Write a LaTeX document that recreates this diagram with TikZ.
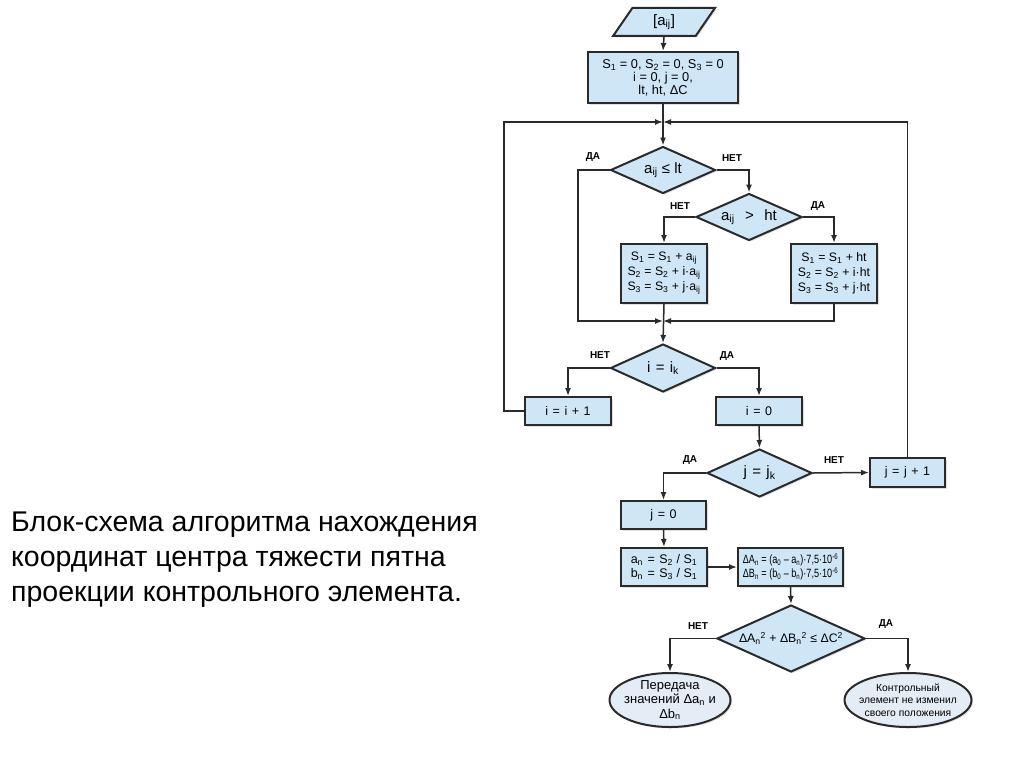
\documentclass[tikz,border=0pt]{standalone}
\usepackage{fontspec}
\setmainfont{Liberation Sans}
\newfontfamily\narrowfont[FakeStretch=0.76]{Liberation Sans}
\usetikzlibrary{arrows.meta,shapes.geometric,shadows}
\newcommand\sbs[1]{\textsubscript{#1}}
\newcommand\sps[1]{\textsuperscript{#1}}
\newcommand\eqsp{\hspace{0.36em}}
\definecolor{boxblue}{HTML}{CFE6F7}
\definecolor{ellblue}{HTML}{E4ECF6}
\definecolor{edge}{HTML}{2A2A2A}
\tikzset{
  x=1pt,y=-1pt,
  blk/.style={draw=edge,line width=2pt,fill=boxblue,inner sep=0pt,align=center,
    drop shadow={opacity=0.25,shadow xshift=1.5pt,shadow yshift=-1.5pt}},
  stepbox/.style={blk,rectangle,font=\fontsize{12.5}{14}\selectfont},
  dia/.style={blk,diamond,aspect=2.2,font=\fontsize{15}{17}\selectfont},
  ell/.style={blk,ellipse,fill=ellblue},
  etext/.style={inner sep=0pt,align=center},
  lbl/.style={font=\bfseries\fontsize{10}{11}\selectfont,inner sep=0pt},
  arr/.style={draw=edge,line width=1.5pt,-{Latex[length=8pt,width=6pt]}},
}
\begin{document}
\begin{tikzpicture}
\useasboundingbox (0,0) rectangle (1024,768);
% caption
\node[anchor=north west,align=left,inner sep=0pt,font=\fontsize{28.5}{35}\selectfont] (cap) at (11,512)
 {Блок-схема алгоритма нахождения\\координат центра тяжести пятна\\проекции контрольного элемента.};
% nodes
\node[blk,trapezium,trapezium left angle=67,trapezium right angle=113,trapezium stretches=true,
  minimum width=102pt,minimum height=28pt,font=\fontsize{15}{17}\selectfont] (in) at (664,22) {[a\sbs{ij}]};
\node[stepbox,minimum width=150pt,minimum height=51pt,font=\fontsize{12.8}{13}\selectfont] (init) at (663,77.5)
 {S\sbs{1} = 0, S\sbs{2} = 0, S\sbs{3} = 0\\i = 0, j = 0,\\lt, ht, ΔC};
\coordinate (J1) at (663,122);
\node[dia,minimum width=105pt,minimum height=47pt] (d1) at (663,170) {a\sbs{ij} ≤ lt};
\node[dia,minimum width=106pt,minimum height=47pt] (d2) at (749,217) {a\sbs{ij}\hspace{0.7em}>\hspace{0.7em}ht};
\node[stepbox,minimum width=86pt,minimum height=59pt,font=\fontsize{12.3}{15}\selectfont] (bl) at (664,273.5)
 {S\sbs{1} = S\sbs{1} + a\sbs{ij}\\S\sbs{2} = S\sbs{2} + i·a\sbs{ij}\\S\sbs{3} = S\sbs{3} + j·a\sbs{ij}};
\node[stepbox,minimum width=86pt,minimum height=59pt,font=\fontsize{12.3}{15}\selectfont] (br) at (834,273.5)
 {S\sbs{1} = S\sbs{1} + ht\\S\sbs{2} = S\sbs{2} + i·ht\\S\sbs{3} = S\sbs{3} + j·ht};
\coordinate (J2) at (663,321);
\coordinate (c1) at (578,321);
\node[dia,minimum width=105pt,minimum height=48pt] (d3) at (663,368) {i\eqsp=\eqsp i\sbs{k}};
\node[stepbox,minimum width=86pt,minimum height=28pt] (ii) at (568,411) {i\eqsp=\eqsp i\eqsp+\eqsp1};
\node[stepbox,minimum width=86pt,minimum height=28pt] (i0) at (759,411) {i\eqsp=\eqsp0};
\coordinate (c2) at (504,411);
\node[dia,minimum width=105pt,minimum height=48pt] (d4) at (759.5,473) {j\eqsp=\eqsp j\sbs{k}};
\node[stepbox,minimum width=75pt,minimum height=29pt] (jj) at (907.5,472.5) {j\eqsp=\eqsp j\eqsp+\eqsp1};
\node[stepbox,minimum width=85pt,minimum height=28pt] (j0) at (663.5,515) {j\eqsp=\eqsp0};
\node[stepbox,minimum width=86pt,minimum height=38pt,font=\fontsize{12.5}{14.5}\selectfont] (an) at (664,567)
 {a\sbs{n}\eqsp=\eqsp S\sbs{2} / S\sbs{1}\\b\sbs{n}\eqsp=\eqsp S\sbs{3} / S\sbs{1}};
\node[stepbox,minimum width=105pt,minimum height=38pt,font=\narrowfont\fontsize{12}{14.5}\selectfont] (dA) at (790.5,567)
 {ΔA\sbs{n} = (a\sbs{0} – a\sbs{n})·7,5·10\sps{-6}\\ΔB\sbs{n} = (b\sbs{0} – b\sbs{n})·7,5·10\sps{-6}};
\node[dia,minimum width=148pt,minimum height=67pt,font=\fontsize{12.3}{14}\selectfont] (d5) at (791,638.5)
 {ΔA\sbs{n}\sps{2} + ΔB\sbs{n}\sps{2} ≤ ΔC\sps{2}};
\node[ell,minimum width=121pt,minimum height=54pt] (eL) at (670,700) {};
\node[etext,font=\fontsize{13}{14.5}\selectfont] (eLt) at (eL.center)
 {Передача\\значений Δa\sbs{n} и\\Δb\sbs{n}};
\node[ell,minimum width=127pt,minimum height=54pt] (eR) at (908,700) {};
\node[etext,font=\fontsize{10.3}{12.5}\selectfont] (eRt) at (eR.center)
 {Контрольный\\элемент не изменил\\своего положения};
% labels
\node[lbl] (t1) at (593,157) {ДА};
\node[lbl] (t2) at (732,158) {НЕТ};
\node[lbl] (t3) at (680,206) {НЕТ};
\node[lbl] (t4) at (818,206) {ДА};
\node[lbl] (t5) at (600,355) {НЕТ};
\node[lbl] (t6) at (727,356) {ДА};
\node[lbl] (t7) at (690,460) {ДА};
\node[lbl] (t8) at (834,460) {НЕТ};
\node[lbl] (t9) at (698,626) {НЕТ};
\node[lbl] (t10) at (886,624) {ДА};
% connectors
\draw[arr] (in.south) -- (init.north);
\draw[arr] (init.south) -- (d1.north);
\draw[arr] (ii.west) -- (c2) |- (J1);
\draw[arr] (jj.north) |- (J1);
\draw[arr] (d1.west) -| (c1) -- (J2);
\draw[arr] (d1.east) -| (d2.north);
\draw[arr] (d2.west) -| (bl.north);
\draw[arr] (d2.east) -| (br.north);
\draw[arr] (bl.south) -- (d3.north);
\draw[arr] (br.south) |- (J2);
\draw[arr] (d3.west) -| (ii.north);
\draw[arr] (d3.east) -| (i0.north);
\draw[arr] (i0.south) -- (d4.north);
\draw[arr] (d4.east) -- (jj.west);
\draw[arr] (d4.west) -| (j0.north);
\draw[arr] (j0.south) -- (an.north);
\draw[arr] (an.east) -- (dA.west);
\draw[arr] (dA.south) -- (d5.north);
\draw[arr] (d5.west) -| (eL.north);
\draw[arr] (d5.east) -| (eR.north);
\end{tikzpicture}
\end{document}
